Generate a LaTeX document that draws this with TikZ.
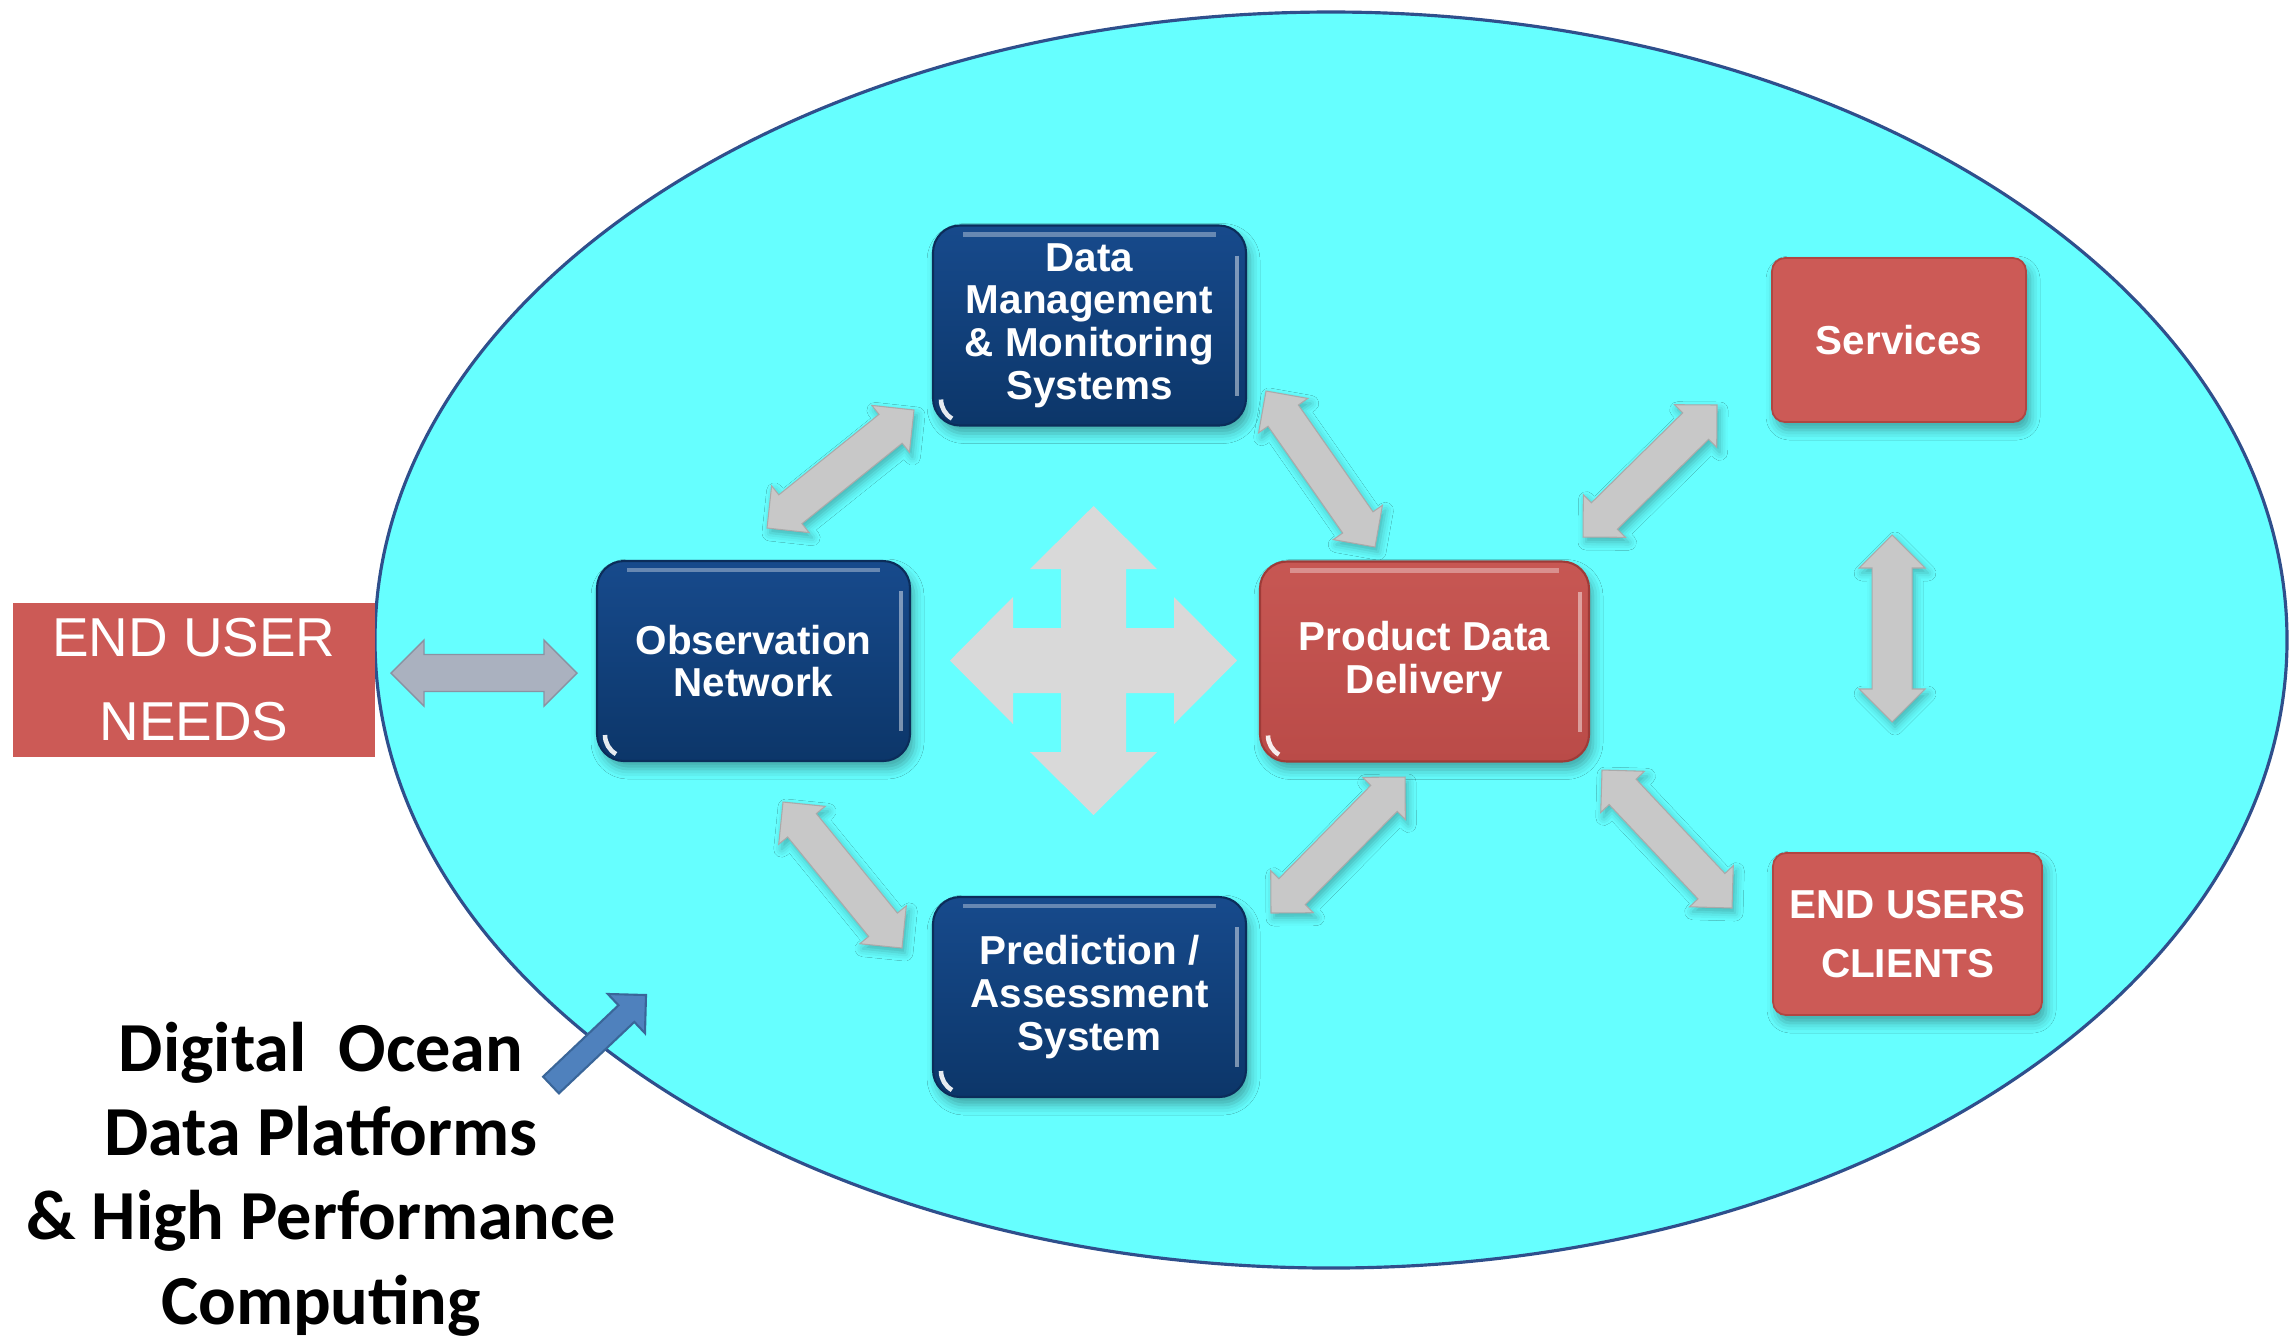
\documentclass[tikz,border=0pt]{standalone}
\usepackage{fontspec}
\setmainfont{Liberation Sans}
\newfontfamily\calibri{Carlito}
\usetikzlibrary{calc,shadows.blur}

\definecolor{sea}{HTML}{66FFFF}
\definecolor{seaedge}{HTML}{2F4F8C}
\definecolor{navytop}{HTML}{174A8C}
\definecolor{navybot}{HTML}{0C3669}
\definecolor{navyedge}{HTML}{0B2D5A}
\definecolor{bricktop}{HTML}{C75753}
\definecolor{brickbot}{HTML}{BA4B48}
\definecolor{brickedge}{HTML}{9E3B38}
\definecolor{coral}{HTML}{CC5A56}
\definecolor{coraledge}{HTML}{B04642}
\definecolor{arrowgrey}{HTML}{C8C8C8}
\definecolor{crossgrey}{HTML}{D9D9D9}
\definecolor{slate}{HTML}{AAB1BF}
\definecolor{slateedge}{HTML}{8A92A2}
\definecolor{pointer}{HTML}{4F81BD}
\definecolor{pointeredge}{HTML}{3A6699}

% block arrow with a head at both ends: style, from, to, head size, half shaft
\newcommand{\dblarrow}[5][]{%
  \path[#1] (#2) -- ($(#2)!#4!(#3)!#4!90:(#3)$) -- ($(#2)!#4!(#3)!#5!90:(#3)$)
    -- ($(#3)!#4!(#2)!#5!-90:(#2)$) -- ($(#3)!#4!(#2)!#4!-90:(#2)$) -- (#3)
    -- ($(#3)!#4!(#2)!#4!90:(#2)$) -- ($(#3)!#4!(#2)!#5!90:(#2)$)
    -- ($(#2)!#4!(#3)!#5!-90:(#3)$) -- ($(#2)!#4!(#3)!#4!-90:(#3)$) -- cycle;}
% same, one head only
\newcommand{\sglarrow}[5][]{%
  \path[#1] ($(#2)!#5!90:(#3)$) -- ($(#3)!#4!(#2)!#5!-90:(#2)$)
    -- ($(#3)!#4!(#2)!#4!-90:(#2)$) -- (#3) -- ($(#3)!#4!(#2)!#4!90:(#2)$)
    -- ($(#3)!#4!(#2)!#5!90:(#2)$) -- ($(#2)!#5!-90:(#3)$) -- cycle;}

\tikzset{
  gloss/.style={path picture={
    \draw[white,opacity=.35,line width=1.2pt]
      ([xshift=3mm,yshift=-0.9mm]path picture bounding box.north west) --
      ([xshift=-3mm,yshift=-0.9mm]path picture bounding box.north east);
    \draw[white,opacity=.45,line width=1pt]
      ([xshift=-0.9mm,yshift=-3mm]path picture bounding box.north east) --
      ([xshift=-0.9mm,yshift=3mm]path picture bounding box.south east);
    \draw[white,opacity=.9,line width=1.3pt]
      ([xshift=0.8mm,yshift=2.6mm]path picture bounding box.south west)
      arc[start angle=180,end angle=240,radius=2.2mm];}},
  boxshadow/.style={blur shadow={shadow xshift=0.4mm,shadow yshift=-0.8mm,
    shadow blur radius=1mm,shadow opacity=35}},
  navybox/.style={rounded corners=2.7mm,top color=navytop,bottom color=navybot,
    draw=navyedge,line width=0.6pt,boxshadow,gloss,text=white,align=center,
    font=\bfseries\fontsize{11.5}{12.1}\selectfont,
    minimum width=3.13cm,minimum height=2cm},
  brickbox/.style={navybox,top color=bricktop,bottom color=brickbot,draw=brickedge,
    minimum width=3.29cm},
  coralbox/.style={rounded corners=1.3mm,fill=coral,draw=coraledge,line width=0.5pt,
    boxshadow,text=white,align=center,font=\bfseries\fontsize{11.5}{17}\selectfont,
    minimum width=2.54cm,minimum height=1.64cm},
  needbox/.style={fill=coral,text=white,align=center,inner sep=0pt,
    font=\fontsize{15.6}{23.9}\selectfont,minimum width=3.62cm,minimum height=1.54cm},
  link/.style={fill=arrowgrey,draw=arrowgrey!85!black,line width=0.3pt,
    blur shadow={shadow xshift=0.3mm,shadow yshift=-0.5mm,shadow blur radius=0.8mm,
    shadow opacity=30}},
}

\begin{document}
\begin{tikzpicture}
\useasboundingbox (0,0) rectangle (22.90,-13.38);
% the ocean
\draw[fill=sea,draw=seaedge,line width=0.9pt] (13.31,-6.40) ellipse [x radius=9.56,y radius=6.28];

% boxes
\node[needbox] (un) at (1.94,-6.80) {END USER\\NEEDS};
\node[navybox] (ob) at (7.535,-6.61) {Observation\\Network};
\node[navybox] (dm) at (10.895,-3.255) {Data\\Management\\\& Monitoring\\Systems};
\node[navybox] (pa) at (10.895,-9.97) {Prediction /\\Assessment\\System};
\node[brickbox] (pd) at (14.245,-6.615) {Product Data\\Delivery};
\node[coralbox] (sv) at (18.99,-3.40) {Services};
\node[coralbox,minimum width=2.69cm,minimum height=1.62cm] (eu) at (19.075,-9.34) {END USERS\\CLIENTS};

% arrow ends
\coordinate (un-a) at (3.91,-6.73);   \coordinate (un-b) at (5.77,-6.73);
\coordinate (obdm-a) at (7.67,-5.28); \coordinate (obdm-b) at (9.14,-4.10);
\coordinate (dmpd-a) at (12.66,-3.91);\coordinate (dmpd-b) at (13.75,-5.47);
\coordinate (obpa-a) at (7.83,-8.02); \coordinate (obpa-b) at (9.02,-9.48);
\coordinate (papd-a) at (12.71,-9.13);\coordinate (papd-b) at (14.05,-7.77);
\coordinate (pdsv-a) at (15.83,-5.37);\coordinate (pdsv-b) at (17.17,-4.05);
\coordinate (pdeu-a) at (16.02,-7.70);\coordinate (pdeu-b) at (17.32,-9.08);
\coordinate (sveu-a) at (18.92,-5.35);\coordinate (sveu-b) at (18.92,-7.22);

% links
\dblarrow[fill=slate,draw=slateedge,line width=0.4pt]{un-a}{un-b}{0.33cm}{0.185cm}
\foreach \l in {obdm,dmpd,obpa,papd,pdsv,pdeu}
  {\dblarrow[link]{\l-a}{\l-b}{0.30cm}{0.185cm}}
\dblarrow[link]{sveu-a}{sveu-b}{0.33cm}{0.20cm}

% four way cross in the middle
\coordinate (hub) at (10.935,-6.605);
\fill[crossgrey,shift={(hub)}] (0,1.545) -- (0.635,0.915) -- (0.325,0.915) -- (0.325,0.325)
  -- (0.805,0.325) -- (0.805,0.635) -- (1.435,0) -- (0.805,-0.635) -- (0.805,-0.325)
  -- (0.325,-0.325) -- (0.325,-0.915) -- (0.635,-0.915) -- (0,-1.545) -- (-0.635,-0.915)
  -- (-0.325,-0.915) -- (-0.325,-0.325) -- (-0.805,-0.325) -- (-0.805,-0.635) -- (-1.435,0)
  -- (-0.805,0.635) -- (-0.805,0.325) -- (-0.325,0.325) -- (-0.325,0.915) -- (-0.635,0.915) -- cycle;

% platforms label and its pointer
\node[font=\calibri\bfseries\fontsize{20}{24}\selectfont,align=center] (dodp) at (3.21,-11.79)
  {Digital\ \ Ocean\\Data Platforms\\\& High Performance\\Computing};
\coordinate (ptail) at (5.51,-10.85);
\coordinate (ptip) at (6.46,-9.95);
\sglarrow[fill=pointer,draw=pointeredge,line width=0.6pt]{ptail}{ptip}{0.27cm}{0.115cm}
\end{tikzpicture}
\end{document}
